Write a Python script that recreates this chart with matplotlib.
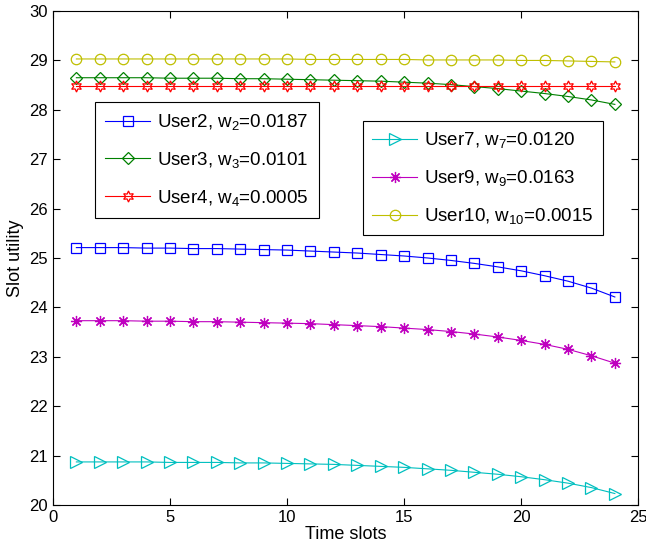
import matplotlib.pyplot as plt

plt.rcParams['font.family'] = ['Liberation Sans', 'DejaVu Sans']
plt.rcParams['mathtext.fontset'] = 'custom'
plt.rcParams['mathtext.rm'] = 'Liberation Sans'
plt.rcParams['mathtext.it'] = 'Liberation Sans'

slots = list(range(1, 25))

user2 = [25.21, 25.21, 25.21, 25.20, 25.20, 25.19, 25.19, 25.18, 25.17, 25.16, 25.14, 25.12,
         25.10, 25.07, 25.04, 25.00, 24.95, 24.89, 24.82, 24.74, 24.64, 24.53, 24.39, 24.21]
user3 = [28.65, 28.65, 28.65, 28.65, 28.64, 28.64, 28.64, 28.63, 28.63, 28.62, 28.61, 28.60,
         28.59, 28.58, 28.56, 28.54, 28.51, 28.47, 28.43, 28.38, 28.33, 28.27, 28.20, 28.11]
user4 = [28.48] * 24
user7 = [20.87, 20.87, 20.87, 20.87, 20.86, 20.86, 20.86, 20.85, 20.85, 20.84, 20.83, 20.82,
         20.80, 20.78, 20.76, 20.73, 20.70, 20.66, 20.62, 20.57, 20.51, 20.44, 20.35, 20.23]
user9 = [23.73, 23.73, 23.73, 23.72, 23.72, 23.71, 23.71, 23.70, 23.69, 23.68, 23.67, 23.65,
         23.63, 23.61, 23.58, 23.55, 23.51, 23.46, 23.40, 23.33, 23.25, 23.15, 23.02, 22.87]
user10 = [29.03, 29.03, 29.03, 29.03, 29.03, 29.03, 29.03, 29.03, 29.03, 29.03, 29.02, 29.02,
          29.02, 29.02, 29.02, 29.01, 29.01, 29.01, 29.01, 29.00, 29.00, 28.99, 28.98, 28.97]

labels_a = [r'User2, w$_\mathregular{2}$=0.0187', r'User3, w$_\mathregular{3}$=0.0101',
            r'User4, w$_\mathregular{4}$=0.0005']
labels_b = [r'User7, w$_\mathregular{7}$=0.0120', r'User9, w$_\mathregular{9}$=0.0163',
            r'User10, w$_\mathregular{10}$=0.0015']

fig = plt.figure(figsize=(6.46, 5.53), dpi=100)
ax = fig.add_axes([0.082, 0.087, 0.906, 0.893])

kw = dict(lw=0.8, markerfacecolor='none', markeredgewidth=0.9)
l2, = ax.plot(slots, user2, color='b', marker='s', ms=7, **kw)
l3, = ax.plot(slots, user3, color=(0, 0.5, 0), marker='D', ms=6.5, **kw)
l4, = ax.plot(slots, user4, color='r', marker=(6, 1, 0), ms=8, **kw)
l7, = ax.plot(slots, user7, color=(0, 0.75, 0.75), marker='>', ms=8, **kw)
l9, = ax.plot(slots, user9, color=(0.75, 0, 0.75), marker=(8, 2, 0), ms=8, **kw)
l10, = ax.plot(slots, user10, color=(0.75, 0.75, 0), marker='o', ms=7.5, **kw)

ax.set_xlim(0, 25)
ax.set_ylim(20, 30)
ax.set_xticks(range(0, 26, 5))
ax.set_yticks(range(20, 31))
ax.tick_params(direction='in', top=True, right=True, labelsize=12, length=5)
ax.set_xlabel('Time slots', fontsize=13, labelpad=1)
ax.set_ylabel('Slot utility', fontsize=13, labelpad=4)

legkw = dict(loc='upper left', fancybox=False, edgecolor='black', framealpha=1,
             fontsize=13.5, borderaxespad=0, handlelength=2.4, handletextpad=0.35,
             labelspacing=0.95, borderpad=0.55)
leg1 = fig.legend([l2, l3, l4], labels_a, bbox_to_anchor=(0.147, 0.816), **legkw)
leg1.get_frame().set_linewidth(0.8)
legkw['borderpad'] = 0.5
leg2 = fig.legend([l7, l9, l10], labels_b, bbox_to_anchor=(0.562, 0.781), **legkw)
leg2.get_frame().set_linewidth(0.8)

fig.savefig('out.png', dpi=100)
